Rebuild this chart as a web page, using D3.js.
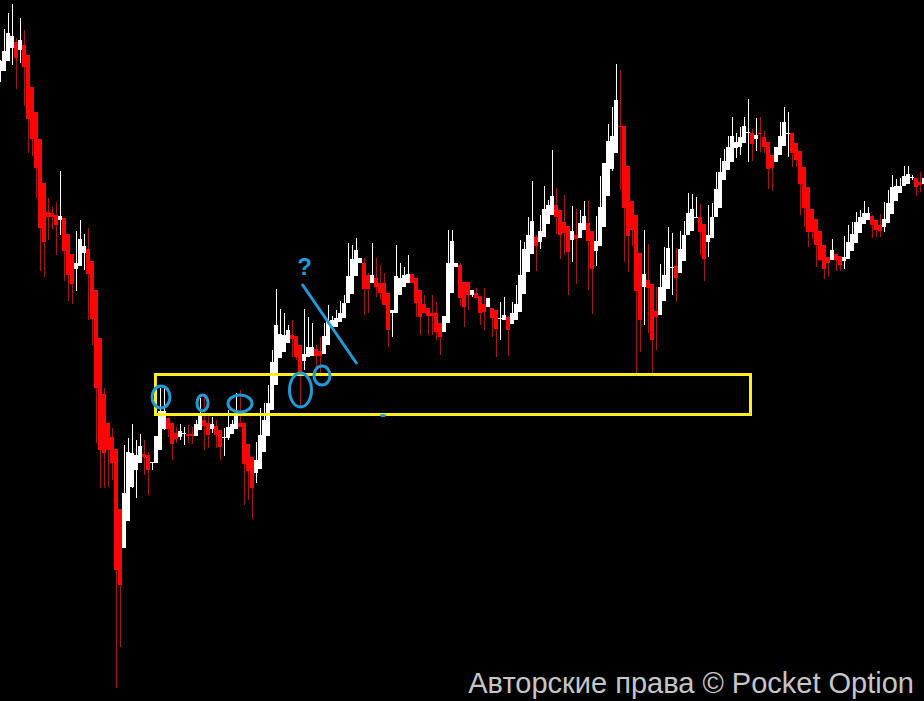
<!DOCTYPE html>
<html lang="ru">
<head>
<meta charset="utf-8">
<title>Candlestick chart</title>
<script src="https://cdn.jsdelivr.net/npm/d3@7"></script>
<style>
html,body{margin:0;padding:0;background:#000;overflow:hidden}
svg{display:block}
</style>
</head>
<body>
<svg id="chart" width="924" height="701"></svg>
<script>
// Chart values (price units, one entry per candle)
const opens = [
630,630,640,653,659,651,656,646,614,589,
562,518,489,488,486,481,483,467,447,432,
435,448,452,440,411,363,307,278,264,252,
192,153,180,214,231,238,247,246,238,238,
251,272,283,278,268,264,267,267,267,265,
271,281,278,272,275,271,263,263,267,272,
278,278,257,244,228,232,249,265,291,316,
343,349,358,366,365,356,340,344,345,352,
350,347,356,374,374,379,383,398,407,425,
438,438,426,418,423,418,418,408,388,388,
406,414,418,427,423,411,397,393,388,388,
378,369,378,408,434,436,419,419,406,408,
405,397,394,393,391,382,381,384,377,381,
389,407,429,447,464,459,464,477,486,496,
491,479,475,461,466,463,471,478,470,450,
455,474,505,532,548,575,575,535,500,486,
448,414,421,417,390,386,400,412,433,435,
428,440,466,470,483,484,477,459,463,484,
493,521,531,539,553,554,558,568,568,562,
568,564,559,546,539,546,555,567,568,558,
550,534,514,492,482,470,456,444,441,447,
445,440,442,450,458,468,477,481,485,481,
476,474,478,487,500,508,515,517,523,523,
519,517];
const closes = [
640,650,668,665,643,661,634,582,562,533,
473,459,484,484,476,485,450,426,417,438,
462,455,427,382,313,251,248,251,238,131,
116,208,249,248,246,255,244,231,239,265,
290,290,272,257,262,270,268,265,265,277,
288,275,266,277,266,254,264,274,277,286,
274,237,230,213,241,266,281,298,339,376,
367,366,371,362,344,328,347,354,354,345,
345,365,380,381,383,388,398,425,442,451,
443,412,412,426,414,408,396,371,391,425,
423,426,427,418,398,384,388,385,385,369,
364,385,438,460,438,403,394,406,411,403,
388,389,403,383,372,383,386,371,388,397,
426,452,466,480,455,470,492,496,505,484,
466,468,449,470,462,478,485,460,432,460,
494,538,560,565,601,574,493,465,471,410,
381,427,413,361,384,414,426,453,434,423,
452,466,488,492,484,469,442,466,484,512,
529,540,554,565,559,564,575,569,557,566,
567,554,532,533,554,565,579,568,548,541,
517,493,469,469,456,441,432,438,451,441,
436,444,459,467,479,484,488,488,476,471,
470,482,498,514,515,515,525,527,524,514,
516,523];
const highs = [
641,672,688,697,663,683,671,646,614,589,
562,518,503,494,499,530,483,467,447,470,
481,467,473,440,411,363,313,279,273,252,
192,256,263,277,261,267,261,249,239,265,
313,313,284,278,274,277,274,276,274,281,
303,306,286,284,281,271,273,291,281,308,
311,278,257,244,259,293,298,316,351,412,
392,388,376,381,365,356,392,384,378,356,
364,378,396,385,391,400,406,458,456,463,
443,443,428,458,443,436,428,408,391,456,
438,434,446,427,423,411,406,393,406,399,
378,385,471,471,438,438,419,419,411,413,
405,413,403,393,391,399,404,385,399,416,
461,459,484,520,466,486,515,501,551,513,
491,506,475,495,492,491,500,500,470,485,
525,538,577,594,637,631,575,535,500,486,
448,471,457,417,414,437,454,474,468,453,
470,480,508,507,504,497,477,496,498,529,
543,552,565,584,568,574,584,602,572,583,
584,570,559,546,554,579,594,589,568,558,
550,534,514,492,482,470,456,444,462,447,
445,465,476,479,489,491,500,494,486,481,
487,499,511,526,522,523,535,535,526,523,
529,523];
const lows = [
619,630,640,636,612,638,595,548,545,503,
430,424,461,472,446,466,420,400,397,410,
435,431,381,356,258,213,213,214,221,13,
54,153,180,213,203,238,226,206,231,238,
251,271,264,241,258,261,256,258,257,265,
271,251,253,268,253,241,245,261,267,272,
274,196,201,182,218,232,249,265,291,316,
343,349,358,344,341,294,331,344,345,334,
327,347,356,374,374,379,383,398,407,425,
438,386,388,418,404,401,396,354,364,388,
406,414,418,418,384,366,388,366,366,361,
346,369,378,408,434,396,374,391,404,403,
376,371,394,364,344,361,381,345,377,381,
389,407,429,447,430,452,464,477,486,467,
442,446,406,439,417,463,471,411,387,435,
455,474,505,530,548,511,439,429,455,328,
349,376,368,328,351,386,400,412,406,399,
428,440,466,470,483,446,420,444,463,484,
493,521,531,539,543,546,558,539,540,550,
549,548,512,510,539,546,555,544,534,534,
486,474,454,462,434,441,422,425,441,430,
430,432,442,450,458,468,477,481,463,464,
464,469,478,487,500,508,515,517,521,505,
509,517];

// Annotation shapes drawn on top of the chart
const zoneBox = {left: 155.5, top: 374.5, right: 750.5, bottom: 414.5};
const markers = [
  {cx: 161, cy: 397, rx: 9, ry: 11},
  {cx: 202.5, cy: 403, rx: 5.5, ry: 8},
  {cx: 240, cy: 403.5, rx: 12, ry: 8.5},
  {cx: 300.5, cy: 390, rx: 11, ry: 17},
  {cx: 322, cy: 375.5, rx: 8, ry: 9.5}
];
const pointerLine = {x1: 302, y1: 284, x2: 357, y2: 364};
const dot = {cx: 383, cy: 415.5, rx: 3, ry: 1.5};
const questionMark = "?";
const copyright = "Авторские права © Pocket Option";

const colors = {
  up: "#ffffff", down: "#fb0505", downWick: "#a31616",
  zone: "#ffee20", note: "#1f9bd6", text: "#c6c6c6"
};

const W = 924, H = 701;
const svg = d3.select("#chart").attr("viewBox", [0, 0, W, H]);
svg.append("rect").attr("width", W).attr("height", H).attr("fill", "#000");

const candles = d3.range(opens.length).map(i => ({
  i, o: opens[i], c: closes[i], h: highs[i], l: lows[i], up: closes[i] >= opens[i]
}));

const x = d3.scaleLinear().domain([0, 231]).range([0, 924]);
const y = d3.scaleLinear().domain([0, 701]).range([701, 0]);
const bodyW = x(1) - x(0);

const g = svg.append("g").attr("shape-rendering", "crispEdges");

g.selectAll("rect.wick").data(candles).join("rect")
  .attr("class", "wick")
  .attr("x", d => x(d.i))
  .attr("width", 1)
  .attr("y", d => y(d.h))
  .attr("height", d => y(d.l) - y(d.h))
  .attr("fill", d => d.up ? colors.up : colors.downWick);

g.selectAll("rect.body").data(candles).join("rect")
  .attr("class", "body")
  .attr("x", d => x(d.i) - bodyW / 2)
  .attr("width", bodyW)
  .attr("y", d => y(Math.max(d.o, d.c)))
  .attr("height", d => Math.max(1, Math.abs(y(d.o) - y(d.c))))
  .attr("fill", d => d.up ? colors.up : colors.down);

svg.append("rect")
  .attr("x", zoneBox.left).attr("y", zoneBox.top)
  .attr("width", zoneBox.right - zoneBox.left)
  .attr("height", zoneBox.bottom - zoneBox.top)
  .attr("fill", "none").attr("stroke", colors.zone).attr("stroke-width", 3);

svg.selectAll("ellipse.marker").data(markers).join("ellipse")
  .attr("class", "marker")
  .attr("cx", d => d.cx).attr("cy", d => d.cy)
  .attr("rx", d => d.rx).attr("ry", d => d.ry)
  .attr("fill", "none").attr("stroke", colors.note).attr("stroke-width", 3);

svg.append("line").attr("x1", pointerLine.x1).attr("y1", pointerLine.y1)
  .attr("x2", pointerLine.x2).attr("y2", pointerLine.y2)
  .attr("stroke", colors.note).attr("stroke-width", 3);

svg.append("ellipse").attr("cx", dot.cx).attr("cy", dot.cy)
  .attr("rx", dot.rx).attr("ry", dot.ry).attr("fill", colors.note);

svg.append("text").attr("x", 304.5).attr("y", 275)
  .attr("text-anchor", "middle")
  .attr("font-family", "'Liberation Sans', Arial, sans-serif")
  .attr("font-weight", "bold").attr("font-size", 24)
  .attr("fill", colors.note).text(questionMark);

svg.append("text").attr("x", 914).attr("y", 693)
  .attr("text-anchor", "end")
  .attr("font-family", "'Liberation Sans', Arial, sans-serif")
  .attr("font-size", 29)
  .attr("fill", colors.text).text(copyright);
</script>
</body>
</html>
